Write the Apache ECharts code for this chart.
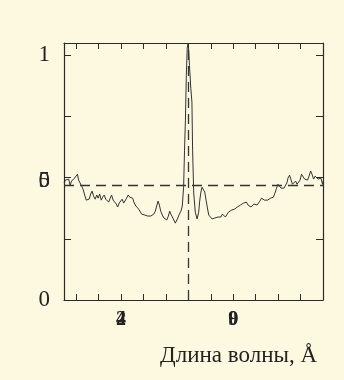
<!DOCTYPE html>
<html><head><meta charset="utf-8">
<script src="https://cdn.jsdelivr.net/npm/echarts@6/dist/echarts.min.js"></script>
<style>html,body{margin:0;padding:0;background:#fdf9e1;}#c{width:344px;height:380px;}</style>
</head><body><div id="c"></div>
<script>
// Relative wavelength (tick units, 0 = line centre) and normalized intensity
var wavelength = [-5.54,-5.47,-5.40,-5.33,-5.27,-5.20,-5.13,-5.07,-5.00,-4.94,-4.89,-4.82,-4.75,-4.69,-4.62,-4.55,-4.49,-4.42,-4.35,-4.29,-4.22,-4.15,-4.08,-4.02,-3.95,-3.88,-3.82,-3.75,-3.68,-3.62,-3.55,-3.48,-3.42,-3.35,-3.28,-3.21,-3.15,-3.08,-3.01,-2.95,-2.88,-2.81,-2.75,-2.68,-2.61,-2.54,-2.48,-2.41,-2.34,-2.28,-2.21,-2.14,-2.08,-2.01,-1.94,-1.88,-1.81,-1.74,-1.67,-1.61,-1.54,-1.47,-1.41,-1.35,-1.29,-1.23,-1.16,-1.09,-1.03,-0.96,-0.89,-0.83,-0.78,-0.71,-0.65,-0.58,-0.51,-0.47,-0.40,-0.33,-0.27,-0.21,-0.17,-0.13,-0.09,-0.05,-0.02,0.01,0.05,0.11,0.16,0.19,0.24,0.31,0.39,0.46,0.51,0.56,0.61,0.67,0.73,0.79,0.85,0.91,0.98,1.06,1.12,1.18,1.25,1.32,1.38,1.45,1.52,1.58,1.65,1.72,1.79,1.85,1.92,1.99,2.05,2.12,2.19,2.25,2.32,2.39,2.46,2.52,2.59,2.66,2.72,2.79,2.86,2.92,2.99,3.06,3.13,3.19,3.26,3.33,3.39,3.46,3.53,3.59,3.66,3.73,3.79,3.86,3.93,3.99,4.06,4.13,4.20,4.26,4.33,4.39,4.44,4.51,4.58,4.64,4.71,4.78,4.84,4.91,4.98,5.04,5.11,5.18,5.25,5.31,5.38,5.45,5.51,5.58,5.65,5.71,5.78,5.84,5.91,5.98,6.00];
var intensity = [0.478,0.490,0.482,0.494,0.469,0.486,0.478,0.498,0.506,0.514,0.490,0.482,0.465,0.453,0.429,0.408,0.416,0.412,0.433,0.445,0.424,0.412,0.429,0.416,0.433,0.408,0.420,0.429,0.412,0.420,0.400,0.416,0.429,0.408,0.416,0.392,0.380,0.396,0.404,0.412,0.396,0.404,0.416,0.429,0.420,0.412,0.416,0.396,0.384,0.388,0.371,0.363,0.351,0.343,0.347,0.339,0.343,0.339,0.343,0.339,0.351,0.363,0.384,0.404,0.388,0.363,0.347,0.335,0.339,0.327,0.343,0.363,0.351,0.339,0.331,0.314,0.322,0.335,0.351,0.363,0.384,0.461,0.612,0.735,0.918,1.029,1.045,1.029,0.959,0.865,0.808,0.612,0.437,0.359,0.331,0.359,0.408,0.441,0.461,0.453,0.441,0.408,0.376,0.347,0.339,0.331,0.339,0.335,0.343,0.339,0.347,0.339,0.351,0.347,0.339,0.347,0.359,0.355,0.367,0.359,0.371,0.367,0.380,0.376,0.388,0.384,0.396,0.392,0.400,0.388,0.392,0.380,0.376,0.392,0.396,0.388,0.392,0.404,0.416,0.412,0.408,0.412,0.408,0.412,0.416,0.420,0.420,0.437,0.457,0.473,0.469,0.457,0.453,0.457,0.449,0.478,0.498,0.510,0.490,0.473,0.478,0.486,0.473,0.478,0.490,0.514,0.506,0.494,0.502,0.490,0.506,0.527,0.514,0.494,0.506,0.502,0.494,0.502,0.498,0.473,0.486];
var xTicks = [-5,-4,-3,-2,-1,0,1,2,3,4,5,6];
var yTicks = [0,0.25,0.5,0.75,1];
var xLabelValues = [-3,2];
var xLabelsA = ['2','0'];
var xLabelsB = ['4','9'];
var yLabelValues = [0,1];
var yMidValue = 0.487;
var yMidA = '0', yMidB = '5';
var continuumLevel = 0.474;
var lineCentre = 0;
var axisName = 'Длина волны, Å';

var data = wavelength.map(function(w,i){return [w,intensity[i]];});
var X_MIN = -5.54, X_MAX = 6.0, Y_MIN = 0, Y_MAX = 1.05;
var axisCol = '#2a2a2a';
var serif = '"Liberation Serif","DejaVu Serif",serif';

function xAx(extra){
  var base = {type:'value', min:X_MIN, max:X_MAX, gridIndex:0,
    splitLine:{show:false},
    axisLine:{show:true, onZero:false, lineStyle:{color:axisCol,width:1.2}},
    axisTick:{show:true, inside:true, length:6, customValues:xTicks, lineStyle:{color:axisCol}},
    axisLabel:{show:false}};
  return Object.assign(base, extra||{});
}
function yAx(extra){
  var base = {type:'value', min:Y_MIN, max:Y_MAX, gridIndex:0,
    splitLine:{show:false},
    axisLine:{show:true, onZero:false, lineStyle:{color:axisCol,width:1.2}},
    axisTick:{show:true, inside:true, length:7, customValues:yTicks, lineStyle:{color:axisCol}},
    axisLabel:{show:false}};
  return Object.assign(base, extra||{});
}
function xLab(texts){
  return xAx({position:'bottom', axisLine:{show:false}, axisTick:{show:false},
    axisLabel:{show:true, customValues:xLabelValues, margin:10,
      formatter:function(v){var i=xLabelValues.indexOf(v);return i<0?'':texts[i];},
      fontFamily:serif, fontWeight:'bold', fontSize:20, color:'#222'}});
}
function yLab(vals, fmt){
  return yAx({position:'left', axisLine:{show:false}, axisTick:{show:false},
    axisLabel:{show:true, customValues:vals, margin:14, formatter:fmt,
      fontFamily:serif, fontSize:23, color:'#222'}});
}

var chart = echarts.init(document.getElementById('c'), null, {renderer:'canvas'});
chart.setOption({
  backgroundColor:'#fdf9e1',
  animation:false,
  grid:{left:64, right:21, top:43, bottom:80, containLabel:false},
  title:{text:axisName, right:22, top:339,
    textStyle:{fontFamily:serif, fontSize:23, fontWeight:'normal', color:'#222'}},
  xAxis:[
    xAx({position:'bottom'}),
    xAx({position:'top'}),
    xLab(xLabelsA),
    xLab(xLabelsB)
  ],
  yAxis:[
    yAx({position:'left'}),
    yAx({position:'right'}),
    yLab(yLabelValues, function(v){return v===0?'0':'1';}),
    yLab([yMidValue], function(){return yMidA;}),
    yLab([yMidValue], function(){return yMidB;})
  ],
  series:[{
    type:'line', xAxisIndex:0, yAxisIndex:0, data:data, showSymbol:false,
    lineStyle:{color:'#333', width:1}, clip:true,
    markLine:{silent:true, symbol:'none', label:{show:false},
      lineStyle:{color:'#333', type:[10,6], width:1.3},
      data:[{xAxis:lineCentre},{yAxis:continuumLevel}]}
  }]
});
</script></body></html>
